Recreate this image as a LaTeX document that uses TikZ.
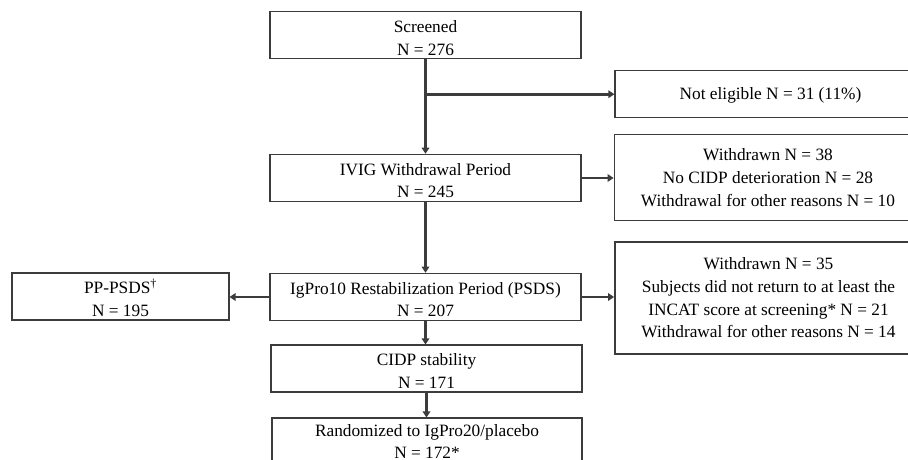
\documentclass[tikz,border=0pt]{standalone}
\usepackage{fontspec}
\setmainfont{Liberation Serif}
\usetikzlibrary{arrows.meta}
\definecolor{ln}{HTML}{3C3C3C}
\newcommand{\mystrut}[1]{\rule{0pt}{#1}}
\begin{document}
\begin{tikzpicture}[x=1pt,y=-1pt,
  box/.style={draw=ln,line width=1.1pt,rectangle,inner sep=0pt,align=center,
    font=\fontsize{17.3}{22.7}\selectfont},
  mainbox/.style={box},
  sidebox/.style={box,line width=1.8pt},
  arr/.style={draw=ln,line width=2.8pt,-{Triangle[length=6pt,width=7.5pt]}}]
\useasboundingbox (0,0) rectangle (908,460);
\fill[white] (0,0) rectangle (908,460);
\clip (0,0) rectangle (908,460);
\node[mainbox,minimum width=311pt,minimum height=47pt] (scr) at (425.5,35.3) {\mystrut{17pt}Screened\\N = 276};
\node[box,minimum width=311pt,minimum height=46.5pt] (ne) at (770.5,94.2) {\mystrut{14pt}Not eligible N = 31 (11\%)};
\node[mainbox,minimum width=311pt,minimum height=47.5pt] (ivig) at (425.5,178) {\mystrut{17pt}IVIG Withdrawal Period\\N = 245};
\node[sidebox,minimum width=307pt,minimum height=86pt] (wd1) at (768,177.5) {Withdrawn N = 38\\No CIDP deterioration N = 28\\Withdrawal for other reasons N = 10};
\node[mainbox,minimum width=311pt,minimum height=47.5pt] (ig) at (425.5,297) {\mystrut{17pt}IgPro10 Restabilization Period (PSDS)\\N = 207};
\node[mainbox,minimum width=217pt,minimum height=47pt] (pp) at (120.5,296.5) {\mystrut{17pt}PP-PSDS\textsuperscript{†}\\N = 195};
\node[sidebox,minimum width=307pt,minimum height=112pt] (wd2) at (768.5,298) {Withdrawn N = 35\\Subjects did not return to at least the\\INCAT score at screening* N = 21\\Withdrawal for other reasons N = 14};
\node[mainbox,minimum width=311pt,minimum height=47pt] (cidp) at (426.5,368.5) {\mystrut{17pt}CIDP stability\\N = 171};
\node[mainbox,minimum width=310pt,minimum height=47pt] (rnd) at (427,441.5) {Randomized to IgPro20/placebo\\N = 172*};
\coordinate (br) at (scr.south |- ne.west);
\draw[arr] (scr.south) -- (scr.south |- ivig.north);
\draw[arr] (br) -- (ne.west);
\draw[arr] (ivig.east) -- (ivig.east -| wd1.west);
\draw[arr] (ivig.south) -- (ivig.south |- ig.north);
\draw[arr] (ig.west) -- (ig.west -| pp.east);
\draw[arr] (ig.east) -- (ig.east -| wd2.west);
\draw[arr] (ig.south) -- (ig.south |- cidp.north);
\draw[arr] (cidp.south) -- (cidp.south |- rnd.north);
\end{tikzpicture}
\end{document}
